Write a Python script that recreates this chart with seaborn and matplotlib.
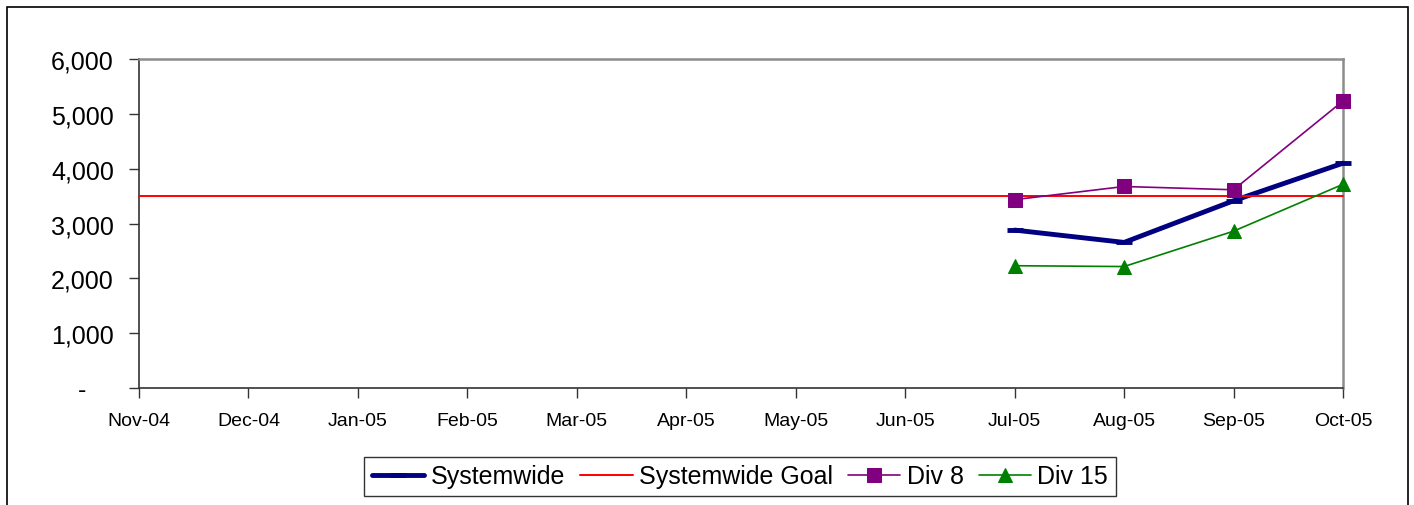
import numpy as np
import pandas as pd
import matplotlib
matplotlib.use("Agg")
import matplotlib.pyplot as plt
from matplotlib.patches import Rectangle
from matplotlib.ticker import FuncFormatter
import seaborn as sns

months = ["Nov-04", "Dec-04", "Jan-05", "Feb-05", "Mar-05", "Apr-05",
          "May-05", "Jun-05", "Jul-05", "Aug-05", "Sep-05", "Oct-05"]
nan = np.nan
systemwide = [nan, nan, nan, nan, nan, nan, nan, nan, 2880, 2655, 3415, 4100]
systemwide_goal = [3500] * 12
div8 = [nan, nan, nan, nan, nan, nan, nan, nan, 3435, 3675, 3615, 5235]
div15 = [nan, nan, nan, nan, nan, nan, nan, nan, 2230, 2215, 2860, 3715]
y_ticks = [0, 1000, 2000, 3000, 4000, 5000, 6000]

sns.set_theme(style="white")
plt.rcParams["font.family"] = ["Liberation Sans", "DejaVu Sans"]

df = pd.DataFrame({
    "pos": np.arange(len(months)),
    "Systemwide": systemwide,
    "Systemwide Goal": systemwide_goal,
    "Div 8": div8,
    "Div 15": div15,
})

fig = plt.figure(figsize=(14.14, 5.06), dpi=100)
ax = fig.add_axes([139 / 1414, 1 - 389 / 506, 1204 / 1414, 329 / 506])

styles = {
    "Systemwide": dict(color="#000080", linewidth=3.5, marker="_", markersize=11,
                       markeredgewidth=3.5, markeredgecolor="#000080"),
    "Systemwide Goal": dict(color="#FF0000", linewidth=1.4),
    "Div 8": dict(color="#800080", linewidth=1.2, marker="s", markersize=10,
                  markeredgecolor="#800080"),
    "Div 15": dict(color="#008000", linewidth=1.2, marker="^", markersize=10.5,
                   markeredgecolor="#008000"),
}
for name, kw in styles.items():
    sns.lineplot(data=df, x="pos", y=name, ax=ax, label=name, clip_on=False,
                 zorder=3, **kw)

# accounting-style axis: zero is shown as a dash set in from the right edge
def y_fmt(v, pos):
    return "-    " if v == 0 else f"{v:,.0f}"

ax.set_xlim(0, len(months) - 1)
ax.set_ylim(0, 6000)
ax.set_xticks(np.arange(len(months)))
ax.set_xticklabels(months, fontsize=14)
ax.set_yticks(y_ticks)
ax.yaxis.set_major_formatter(FuncFormatter(y_fmt))
ax.tick_params(axis="y", labelsize=18, labelcolor="black", direction="out",
               length=7, width=1, color="#333333", pad=11, left=True)
ax.tick_params(axis="x", labelcolor="black", direction="out", length=7, width=1,
               color="#333333", pad=10, bottom=True)
ax.set_xlabel("")
ax.set_ylabel("")
for side in ["left", "bottom"]:
    ax.spines[side].set_color("#333333")
    ax.spines[side].set_linewidth(1.2)
for side in ["top", "right"]:
    ax.spines[side].set_color("#8c8c8c")
    ax.spines[side].set_linewidth(1.8)
ax.grid(False)

leg = ax.legend(loc="center", bbox_to_anchor=(740 / 1414, 1 - 477.5 / 506),
                bbox_transform=fig.transFigure, ncol=4, fontsize=18,
                frameon=True, fancybox=False, handlelength=2.1,
                handletextpad=0.25, columnspacing=0.6, borderpad=0.3,
                borderaxespad=0)
leg.get_frame().set_edgecolor("black")
leg.get_frame().set_linewidth(1.0)
for t in leg.get_texts():
    t.set_color("black")

fig.patches.append(Rectangle((7 / 1414, -0.05), 1401 / 1414, 1.05 - 8 / 506,
                             transform=fig.transFigure, fill=False,
                             edgecolor="black", linewidth=1.2))

fig.savefig("out.png", dpi=100)
